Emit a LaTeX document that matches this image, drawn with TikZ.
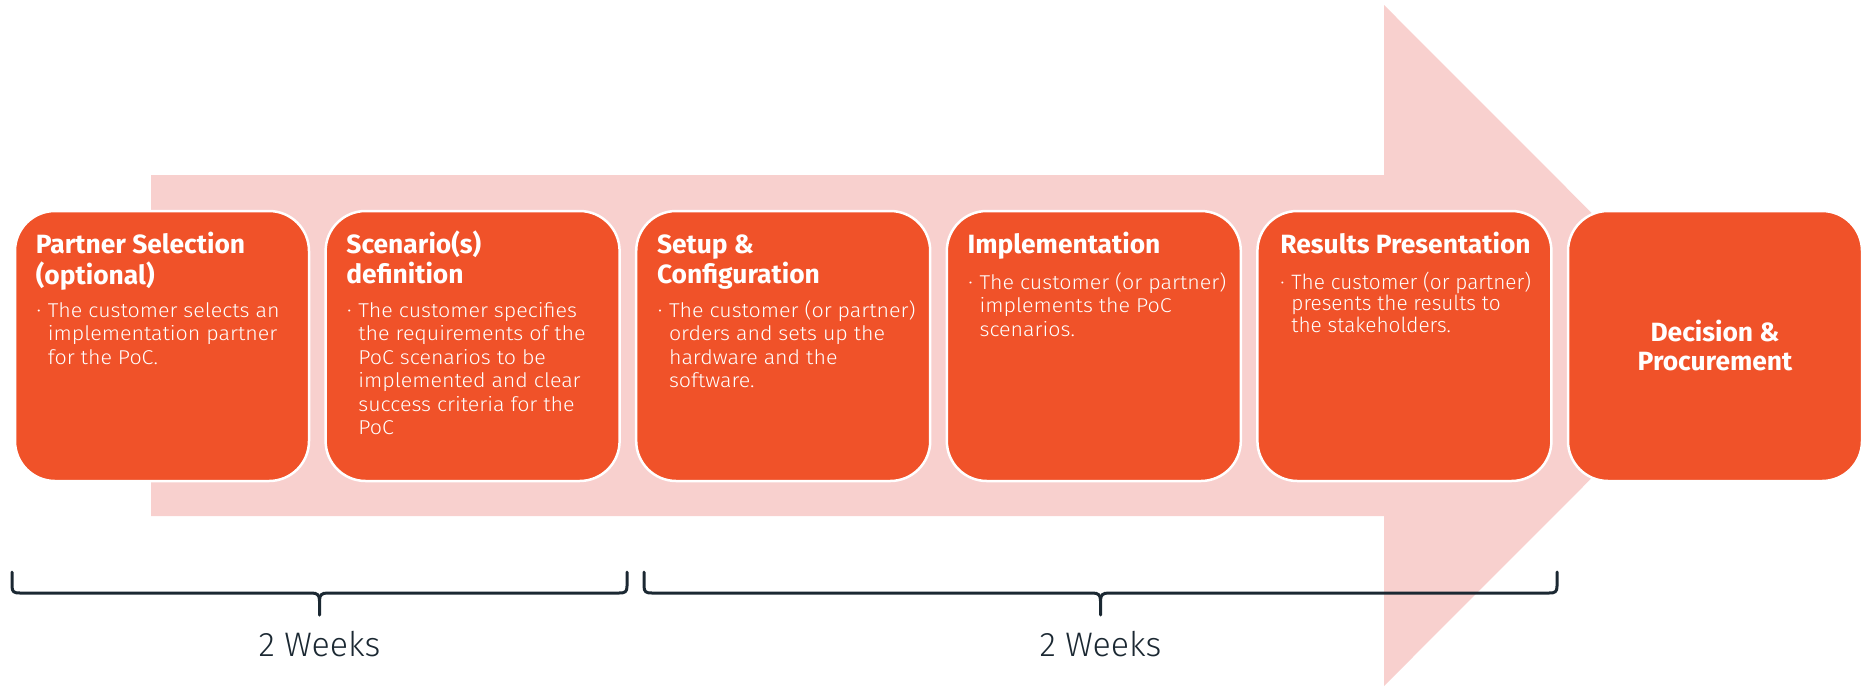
\documentclass[tikz,border=0pt]{standalone}
\usepackage{fontspec}
\setmainfont{Fira Sans}
\newfontfamily\ttlfam{Fira Sans Bold}
\newfontfamily\lightfam{Fira Sans Light}
\newfontfamily\lightwidefam[FakeStretch=1.07]{Fira Sans Light}
\definecolor{boxorange}{HTML}{F05229}
\definecolor{arrowpink}{HTML}{F8D0CE}
\definecolor{darkline}{HTML}{1B2832}
\newcommand\titlefont{\ttlfam\fontsize{13.2}{14.5}\selectfont}
\newcommand\bodyfont{\lightwidefam\fontsize{10}{11.75}\selectfont}
\newcommand\bodyfivefont{\lightfam\fontsize{10.4}{10.7}\selectfont}
\newcommand\weeksfont{\lightfam\fontsize{17}{19}\selectfont}
\newcommand\bul{\llap{{\fontsize{6.5}{6.5}\selectfont\raisebox{1pt}{•}}\hspace{3.5pt}}}
\newcommand\lines[1]{\begin{tabular}[t]{@{}l@{}}#1\end{tabular}}
\begin{document}
\begin{tikzpicture}[x=0.5pt,y=-0.5pt,
  box/.style={draw=white, line width=1.25pt, fill=boxorange, rounded corners=20pt,
    minimum width=147pt, minimum height=135pt, inner sep=0pt},
  ttl/.style={anchor=base west, inner sep=0pt, text=white, font=\titlefont},
  body/.style={anchor=base west, inner sep=0pt, text=white, font=\bodyfont},
  brk/.style={draw=darkline, line width=1.5pt, line cap=round},
  weeks/.style={text=darkline, font=\weeksfont, inner sep=0pt}]
\useasboundingbox (0,0) rectangle (1866,687);
% big arrow
\fill[arrowpink] (151,175) -- (1384,175) -- (1384,5) -- (1724,345.5)
  -- (1384,686) -- (1384,516) -- (151,516) -- cycle;
% boxes
\node[box] (b1) at (162,346) {};
\node[box] (b2) at (472.6,346) {};
\node[box] (b3) at (783.2,346) {};
\node[box] (b4) at (1093.8,346) {};
\node[box] (b5) at (1404.4,346) {};
\node[box] (b6) at (1715,346) {};
% titles
\node[ttl] (t1) at (35.5,253) {\lines{Partner Selection\\(optional)}};
\node[ttl] (t2) at (346,253) {\lines{Scenario(s)\\definition}};
\node[ttl] (t3) at (656.6,253) {\lines{Setup \&\\Configuration}};
\node[ttl] (t4) at (967.2,253) {\lines{Implementation}};
\node[ttl] (t5) at (1280,253) {\lines{Results Presentation}};
% bodies
\node[body] (d1) at (47.5,317) {\lines{\bul The customer selects an\\implementation partner\\for the PoC.}};
\node[body] (d2) at (358,317) {\lines{\bul The customer specifies\\the requirements of the\\PoC scenarios to be\\implemented and clear\\success criteria for the\\PoC}};
\node[body] (d3) at (668.6,317) {\lines{\bul The customer (or partner)\\orders and sets up the\\hardware and the\\software.}};
\node[body] (d4) at (979.2,289) {\lines{\bul The customer (or partner)\\implements the PoC\\scenarios.}};
\node[body, font=\bodyfivefont] (d5) at (1291,289) {\lines{\bul The customer (or partner)\\presents the results to\\the stakeholders.}};
\node[align=center, text=white, font=\titlefont, inner sep=0pt] (t6) at (b6) {Decision \&\\Procurement};
% brackets
\coordinate (l1) at (12,572); \coordinate (m1) at (319.5,615); \coordinate (r1) at (627,572);
\coordinate (l2) at (644,572); \coordinate (m2) at (1100.5,615); \coordinate (r2) at (1557,572);
\draw[brk] (l1) -- (12,586) .. controls (12,592) and (14,593) .. (20,593)
  -- (311.5,593) .. controls (317.5,593) and (319.5,595) .. (319.5,601) -- (m1);
\draw[brk] (r1) -- (627,586) .. controls (627,592) and (625,593) .. (619,593)
  -- (327.5,593) .. controls (321.5,593) and (319.5,595) .. (319.5,601);
\draw[brk] (l2) -- (644,586) .. controls (644,592) and (646,593) .. (652,593)
  -- (1092.5,593) .. controls (1098.5,593) and (1100.5,595) .. (1100.5,601) -- (m2);
\draw[brk] (r2) -- (1557,586) .. controls (1557,592) and (1555,593) .. (1549,593)
  -- (1108.5,593) .. controls (1102.5,593) and (1100.5,595) .. (1100.5,601);
\node[weeks] (w1) at (319.5,644) {2 Weeks};
\node[weeks] (w2) at (1100.5,644) {2 Weeks};
\end{tikzpicture}
\end{document}
